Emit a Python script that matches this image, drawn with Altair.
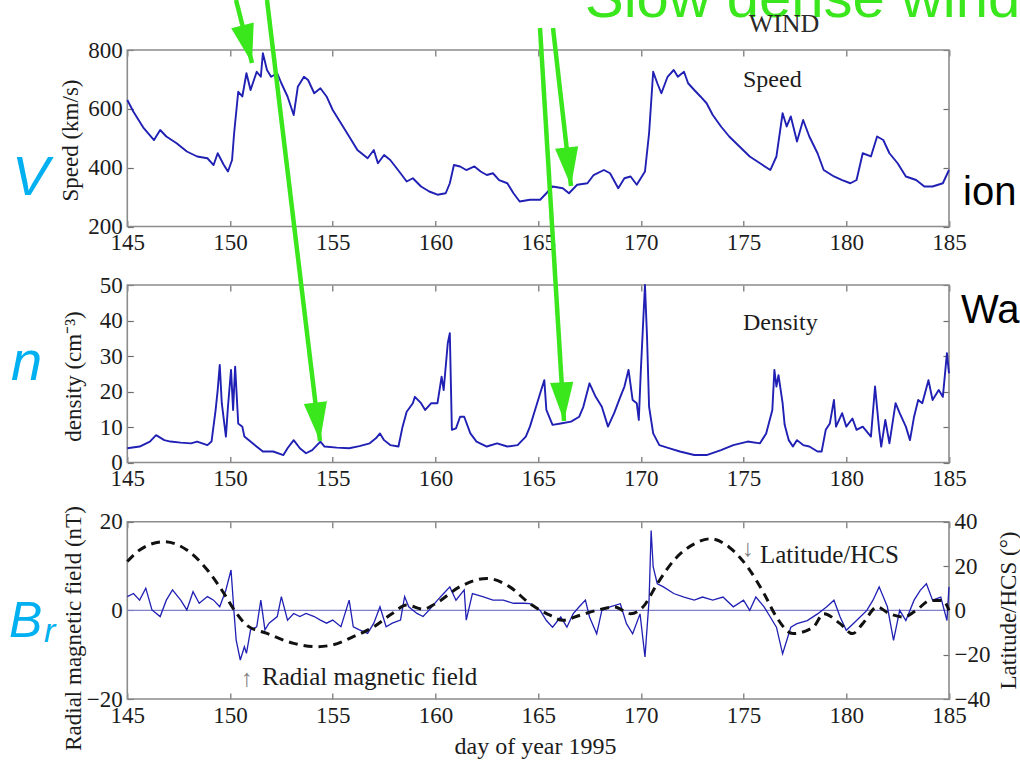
import math
import altair as alt
import pandas as pd

# ---------------- data ----------------
day_ticks = [145, 150, 155, 160, 165, 170, 175, 180, 185]
speed_ticks = [200, 400, 600, 800]
dens_ticks = [0, 10, 20, 30, 40, 50]
br_ticks = [-20, 0, 20]
lat_ticks = [-40, -20, 0, 20, 40]

speed_day = [145.0, 145.3, 145.8, 146.3, 146.6, 146.9, 147.4, 147.9, 148.4, 148.9, 149.2, 149.4, 149.7, 149.9,
             150.1, 150.2, 150.4, 150.6, 150.8, 151.0, 151.3, 151.5, 151.6, 151.8, 152.0, 152.3, 152.5, 152.8,
             153.1, 153.3, 153.6, 153.8, 154.1, 154.4, 154.7, 155.0, 155.4, 155.8, 156.2, 156.7, 157.0, 157.2,
             157.5, 157.8, 158.3, 158.6, 158.9, 159.3, 159.7, 160.1, 160.5, 160.7, 160.9, 161.2, 161.5, 161.9,
             162.2, 162.5, 162.8, 163.1, 163.5, 163.8, 164.1, 164.6, 165.1, 165.4, 165.7, 166.2, 166.5, 166.9,
             167.4, 167.7, 168.2, 168.5, 168.9, 169.2, 169.5, 169.8, 170.2, 170.4, 170.6, 170.8, 171.0, 171.3,
             171.6, 171.8, 172.1, 172.3, 172.6, 172.9, 173.2, 173.5, 173.9, 174.3, 174.8, 175.3, 175.8, 176.3,
             176.6, 176.9, 177.1, 177.3, 177.6, 177.9, 178.2, 178.6, 178.9, 179.4, 179.8, 180.2, 180.5, 180.8,
             181.2, 181.5, 181.8, 182.1, 182.5, 182.9, 183.4, 183.8, 184.2, 184.7, 185.0]
speed_kms = [630, 590, 534, 494, 528, 506, 483, 455, 438, 432, 409, 449, 409, 387,
             426, 517, 658, 642, 721, 664, 726, 709, 789, 732, 709, 721, 687, 642,
             579, 675, 709, 698, 653, 670, 642, 596, 551, 506, 460, 432, 460, 415,
             443, 426, 381, 353, 364, 336, 319, 308, 313, 347, 409, 404, 392, 404,
             387, 375, 381, 358, 347, 313, 285, 291, 291, 313, 336, 330, 313, 342,
             347, 375, 392, 381, 330, 364, 370, 342, 387, 517, 726, 687, 653, 709,
             732, 709, 726, 687, 664, 642, 619, 579, 540, 506, 472, 438, 415, 392,
             438, 585, 540, 574, 489, 562, 506, 449, 392, 370, 358, 347, 358, 449,
             438, 506, 494, 449, 415, 370, 358, 336, 336, 347, 392]

dens_day = [145.0, 145.6, 146.1, 146.4, 146.8, 147.1, 147.6, 148.1, 148.4, 148.9, 149.1, 149.3, 149.4, 149.5,
            149.6, 149.8, 149.9, 150.05, 150.15, 150.25, 150.4, 150.6, 150.7, 151.1, 151.6, 152.1, 152.6, 152.8,
            153.1, 153.4, 153.7, 154.0, 154.4, 154.6, 155.2, 155.8, 156.3, 156.8, 157.1, 157.3, 157.5, 157.8,
            158.2, 158.4, 158.6, 158.9, 159.0, 159.3, 159.5, 159.8, 160.1, 160.3, 160.4, 160.6, 160.7, 160.8,
            161.0, 161.2, 161.4, 161.7, 162.0, 162.5, 163.0, 163.5, 164.0, 164.4,
            164.6, 164.8, 165.1, 165.3, 165.4, 165.7, 166.1, 166.6, 167.0, 167.2, 167.5, 167.8, 168.1, 168.4,
            168.7, 169.0, 169.2, 169.4, 169.6, 169.8, 169.9, 170.0, 170.2, 170.3, 170.4, 170.6, 170.9, 171.4,
            171.9, 172.6, 173.2, 173.9, 174.5, 175.2, 175.8, 176.1, 176.4, 176.5, 176.6, 176.7, 176.9, 177.0,
            177.2, 177.4, 177.6, 177.9, 178.2, 178.6, 178.8, 179.0, 179.2, 179.4, 179.5, 179.8, 180.0, 180.3,
            180.5, 180.8, 181.2, 181.4, 181.6, 181.7, 181.9, 182.1, 182.4, 182.6, 182.9, 183.1, 183.3, 183.5,
            183.7, 184.0, 184.2, 184.5, 184.7, 184.9, 185.0]
dens_cm3 = [4.0, 4.5, 5.9, 7.7, 6.3, 5.9, 5.6, 5.4, 5.9, 4.9, 5.9, 14.8, 20.4, 27.5,
            16.7, 7.3, 15.7, 26.1, 14.8, 27.0, 11.0, 10.1, 7.3, 5.4, 3.1, 3.1, 2.1, 4.0,
            6.3, 4.0, 2.6, 3.5, 5.9, 4.5, 4.2, 4.0, 4.6, 5.4, 6.8, 8.2, 6.3, 4.9,
            4.5, 10.1, 14.3, 16.7, 18.5, 16.7, 14.8, 16.7, 16.7, 24.2, 20.4, 33.6, 36.4, 9.2,
            9.6, 12.9, 12.9, 8.2, 5.9, 4.5, 5.4, 4.5, 4.9, 7.3,
            10.1, 13.9, 19.5, 23.2, 14.8, 10.6, 11.0, 11.5, 12.9, 15.7, 22.3, 18.5, 15.7, 10.1,
            13.9, 18.5, 21.4, 26.1, 17.6, 16.7, 12.0, 26.1, 50.0, 35.4, 15.7, 8.2, 4.9, 4.0,
            3.1, 2.1, 2.1, 3.5, 4.9, 5.9, 5.4, 8.2, 14.8, 26.1, 21.4, 24.6, 16.7, 10.6,
            6.3, 4.5, 6.3, 4.9, 4.5, 3.1, 3.1, 9.2, 11.0, 17.6, 10.1, 13.9, 10.1, 12.4,
            9.2, 10.1, 7.3, 21.4, 9.2, 4.5, 12.0, 5.4, 16.7, 13.9, 10.1, 6.3, 12.9, 17.6,
            16.7, 23.2, 17.6, 20.4, 18.5, 30.8, 25.1]

br_day = [145.0, 145.3, 145.6, 145.9, 146.2, 146.6, 146.9, 147.2, 147.6, 147.9, 148.2, 148.5, 148.9, 149.2,
          149.5, 149.8, 150.05, 150.2, 150.3, 150.5, 150.7, 150.8, 151.0, 151.3, 151.5, 151.7, 151.9, 152.3,
          152.5, 152.8, 153.1, 153.4, 153.7, 154.1, 154.4, 154.7, 155.0, 155.4, 155.8, 156.0, 156.3, 156.7,
          157.0, 157.3, 157.6, 157.9, 158.3, 158.5, 158.7, 159.1, 159.4, 159.7, 160.1, 160.4, 160.7, 161.0,
          161.4, 161.5, 161.8, 162.3, 162.8, 163.3, 163.8, 164.3,
          164.6, 165.1, 165.4, 165.7, 166.1, 166.4, 166.7, 167.0, 167.3, 167.5, 167.85, 168.1, 168.5, 169.0,
          169.3, 169.6, 169.96, 170.2, 170.4, 170.5, 170.6, 170.8, 171.1, 171.6, 172.1, 172.6, 173.0, 173.5,
          174.0, 174.5, 175.0, 175.3, 175.6, 176.0, 176.3, 176.6, 176.9, 177.3, 177.6, 178.1, 178.6, 179.05,
          179.4, 179.7, 180.0, 180.5, 181.0, 181.3, 181.6, 182.0, 182.3, 182.6, 182.9, 183.3, 183.6, 183.9,
          184.2, 184.6, 184.9, 185.0]
br_nt = [3.1, 3.8, 2.3, 5.0, 0.1, -1.4, 2.3, 4.6, 2.3, 0.1, 4.2, 1.6, 3.1, 2.3,
         0.8, 4.6, 9.1, -0.7, -6.7, -11.2, -8.2, -9.7, -4.4, -3.7, 2.3, -4.4, -2.9, -1.4,
         3.1, -2.2, -0.7, -1.4, -0.7, -1.4, -2.2, -2.9, -2.2, -3.7, 2.3, -3.7, -4.4, -5.2,
         -2.9, 0.8, -3.7, -2.9, -2.2, 3.1, 0.8, -0.7, -1.4, 0.1, 2.3, 3.8, 5.3, 2.3,
         4.6, -2.2, 3.8, 3.1, 2.3, 2.3, 1.6, 1.6,
         1.5, 0.0, -2.3, -3.8, -1.5, -3.8, -0.8, 0.8, 2.3, -1.5, -5.3, 0.0, 0.8, 1.5,
         -3.0, -5.3, -0.8, -10.5, 2.3, 18.0, 9.8, 6.0, 5.3, 3.8, 3.0, 2.3, 3.0, 2.3,
         3.0, 0.8, 2.3, 0.0, 3.0, 0.8, -1.5, -3.8, -9.8, -3.8, -3.0, -2.3, -0.8, 0.8,
         2.3, -1.5, -4.5, -2.3, 0.0, 2.3, 5.3, 0.8, -6.8, 0.0, -2.3, 2.3, 4.5, 6.0,
         2.3, 3.0, -2.3, 5.3]

lat_day = [145.0, 145.6, 146.8, 147.9, 148.9, 149.7, 150.2, 150.8, 151.8, 153.1, 154.2, 155.0, 156.0, 157.0,
           157.9, 158.6, 159.4, 160.0, 161.2, 162.5, 163.6, 164.6, 165.6, 166.2, 167.0, 167.85, 168.7, 169.5,
           170.1, 170.8, 171.6, 172.6, 173.4, 174.3, 175.2, 176.0, 176.6, 177.4, 178.4, 178.9, 179.7, 180.3,
           180.8, 181.5, 182.1, 182.8, 183.4, 184.1, 184.7, 185.0]
lat_deg = [22.0, 27.2, 31.0, 27.2, 18.2, 7.7, 0.2, -6.6, -10.4, -14.9, -16.4, -15.6, -11.9, -7.4,
           -1.4, 2.4, 0.5, 3.0, 10.7, 14.4, 10.7, 3.0, -2.3, -4.5, -2.3, 0.0, 1.5, -1.5,
           1.5, 12.0, 22.5, 30.0, 32.3, 28.5, 19.5, 7.5, -3.0, -10.5, -7.5, -1.5, -6.0, -10.5,
           -6.0, 1.5, -1.5, -3.0, 0.0, 4.5, 4.5, 0.0]

# annotation arrows (page pixels: start x, start y, tip x, tip y)
arrow_x0 = [236, 267, 540, 553]
arrow_y0 = [0, 0, 28, 28]
arrow_x1 = [252, 320, 564, 571]
arrow_y1 = [63, 441, 421, 186]

# ---------------- layout / style ----------------
OX, OY = 127.3, 50.0            # page position of the plot-area origin
W, H = 949.0 - OX, 699.0 - OY   # plot-area size
SP_TOP, SP_BOT = 50.0 - OY, 226.5 - OY
DN_TOP, DN_BOT = 285.0 - OY, 462.5 - OY
BR_TOP, BR_BOT = 521.7 - OY, 699.0 - OY

SERIF = "Liberation Serif"
SANS = "Liberation Sans"
BLUE = "#2020b4"
FRAME = "#8c8c8c"
TICK = "#6e6e6e"
CYAN = "#00b0f0"
GREEN = "#3ae61c"
INK = "#1c1c1c"


def xsc():
    return alt.Scale(domain=[day_ticks[0], day_ticks[-1]], nice=False, zero=False)


def ysc(ticks, top, bot):
    return alt.Scale(domain=[ticks[0], ticks[-1]], range=[bot, top], nice=False, zero=False)


def tick_axis(orient, offset, values):
    return alt.Axis(orient=orient, offset=offset, values=values, domain=False, labels=False,
                    ticks=True, tickSize=6, tickColor=TICK, tickWidth=1.2, grid=False, title=None)


def xlab_axis(offset, title=None, **kw):
    return alt.Axis(orient="bottom", offset=offset, values=day_ticks, format="d", domain=False,
                    ticks=False, tickSize=0, grid=False, labelFont=SERIF, labelFontSize=23,
                    labelColor=INK, labelPadding=5, labelFlush=False, labelOverlap=False,
                    title=title, titleFont=SERIF, titleFontSize=24, titleFontWeight="normal",
                    titleColor=INK, **kw)


def ylab_axis(orient, values, title, tx, ty, angle=270):
    return alt.Axis(orient=orient, values=values, format="d", domain=False, ticks=False, tickSize=0,
                    grid=False, labelFont=SERIF, labelFontSize=23, labelColor=INK, labelPadding=5,
                    labelFlush=False, labelOverlap=False,
                    title=title, titleFont=SERIF, titleFontSize=23, titleFontWeight="normal",
                    titleColor=INK, titleX=tx, titleY=ty, titleAngle=angle, titleAlign="center",
                    titleBaseline="middle")


def frame_df(yt):
    return pd.DataFrame({"x": [day_ticks[0]], "x2": [day_ticks[-1]], "y": [yt[0]], "y2": [yt[-1]]})


def panel(day, val, yt, top, bot, ytitle, tx, ty):
    df = pd.DataFrame({"day": day, "v": val})
    line = alt.Chart(df).mark_line(color=BLUE, strokeWidth=1.9, strokeJoin="round").encode(
        x=alt.X("day:Q", scale=xsc(), axis=xlab_axis(bot - H)),
        y=alt.Y("v:Q", scale=ysc(yt, top, bot), axis=ylab_axis("left", yt, ytitle, tx, ty)),
    )
    frame = alt.Chart(frame_df(yt)).mark_rect(fill="white", fillOpacity=0, stroke=FRAME,
                                              strokeWidth=1.6).encode(
        x=alt.X("x:Q", scale=xsc(), axis=tick_axis("top", -bot, day_ticks)),
        x2="x2:Q",
        y=alt.Y("y:Q", scale=ysc(yt, top, bot), axis=tick_axis("right", -W, yt)),
        y2="y2:Q",
    )
    far = alt.Chart(frame_df(yt)).mark_point(opacity=0).encode(
        x=alt.X("x:Q", scale=xsc(), axis=tick_axis("bottom", top - H, day_ticks)),
        y=alt.Y("y:Q", scale=ysc(yt, top, bot), axis=tick_axis("left", -W, yt)),
    )
    return [frame, line, far]


def txt(s, x, y, size, font=SERIF, color=INK, style="normal", align="left", baseline="alphabetic"):
    return alt.Chart(pd.DataFrame({"t": [s]})).mark_text(
        text=s, font=font, fontSize=size, color=color, fontStyle=style, align=align,
        baseline=baseline).encode(x=alt.value(x - OX), y=alt.value(y - OY))


layers = []
layers += panel(speed_day, speed_kms, speed_ticks, SP_TOP, SP_BOT, "Speed (km/s)", 70 - OX, 140 - OY)
layers += panel(dens_day, dens_cm3, dens_ticks, DN_TOP, DN_BOT, "density (cm\u207b\u00b3)", 73 - OX, 376 - OY)

# ---- Br panel ----
br_df = pd.DataFrame({"day": br_day, "v": br_nt})
lat_df = pd.DataFrame({"day": lat_day, "v": lat_deg})
zero_df = pd.DataFrame({"x": [day_ticks[0]], "x2": [day_ticks[-1]], "y": [0]})

br_frame = alt.Chart(frame_df(br_ticks)).mark_rect(fill="white", fillOpacity=0, stroke=FRAME,
                                                   strokeWidth=1.6).encode(
    x=alt.X("x:Q", scale=xsc(), axis=tick_axis("bottom", BR_TOP - H, day_ticks)),
    x2="x2:Q",
    y=alt.Y("y:Q", scale=ysc(br_ticks, BR_TOP, BR_BOT), axis=tick_axis("right", -W, br_ticks)),
    y2="y2:Q",
)
zero_rule = alt.Chart(zero_df).mark_rule(color="#8080c8", strokeWidth=1.2).encode(
    x=alt.X("x:Q", scale=xsc(), axis=None),
    x2="x2:Q",
    y=alt.Y("y:Q", scale=ysc(br_ticks, BR_TOP, BR_BOT), axis=None),
)
br_line = alt.Chart(br_df).mark_line(color=BLUE, strokeWidth=1.3).encode(
    x=alt.X("day:Q", scale=xsc(),
            axis=xlab_axis(0, title="day of year 1995", titleX=535 - OX, titleY=47,
                           titleBaseline="middle", titleAlign="center")),
    y=alt.Y("v:Q", scale=ysc(br_ticks, BR_TOP, BR_BOT),
            axis=ylab_axis("left", br_ticks, "Radial magnetic field (nT)", 73 - OX, 628 - OY)),
)
lat_line = alt.Chart(lat_df).mark_line(color="#111111", strokeWidth=3, strokeDash=[9, 6],
                                       interpolate="monotone").encode(
    x=alt.X("day:Q", scale=xsc(), axis=tick_axis("top", -BR_BOT, day_ticks)),
    y=alt.Y("v:Q", scale=ysc(lat_ticks, BR_TOP, BR_BOT),
            axis=ylab_axis("right", lat_ticks, "Latitude/HCS (\u00b0)", 1008 - 949, 610 - OY)),
)
lat_far = alt.Chart(frame_df(lat_ticks)).mark_point(opacity=0).encode(
    x=alt.X("x:Q", scale=xsc(), axis=None),
    y=alt.Y("y:Q", scale=ysc(lat_ticks, BR_TOP, BR_BOT), axis=tick_axis("left", -W, lat_ticks)),
)
layers += [br_frame, zero_rule, br_line, lat_line, lat_far]

# ---- in-figure texts ----
layers += [
    txt("Slow dense wind", 585, 17, 58, font=SANS, color=GREEN),
    txt("WIND", 784, 32, 26, color="#2a2a2a", align="center"),
    txt("Speed", 743, 87, 24),
    txt("Density", 743, 330, 24),
    txt("\u2191", 247, 686, 24, color="#808080", align="center"),
    txt("Radial magnetic field", 262, 685, 25),
    txt("\u2193", 748, 556, 24, color="#808080", align="center"),
    txt("Latitude/HCS", 760, 563, 25),
    txt("V", 12, 195, 56, font=SANS, color=CYAN, style="italic"),
    txt("n", 11, 380, 56, font=SANS, color=CYAN, style="italic"),
    txt("B", 9, 637, 50, font=SANS, color=CYAN, style="italic"),
    txt("r", 44, 642, 34, font=SANS, color=CYAN, style="italic"),
    txt("ion", 963, 205, 40, font=SANS, color="#000000"),
    txt("Wa", 961, 323, 40, font=SANS, color="#000000"),
]

# ---- green arrows ----
arr = pd.DataFrame({"x0": arrow_x0, "y0": arrow_y0, "x1": arrow_x1, "y1": arrow_y1})
arr["px0"] = arr["x0"] - OX
arr["py0"] = arr["y0"] - OY
arr["px1"] = arr["x1"] - OX
arr["py1"] = arr["y1"] - OY
arr["ang"] = [(360.0 - math.degrees(math.asin((b - a) / math.hypot(b - a, d - c)))) % 360.0
              for a, c, b, d in zip(arr["x0"], arr["y0"], arr["x1"], arr["y1"])]
layers += [
    alt.Chart(arr).mark_rule(color=GREEN, strokeWidth=4.5).encode(
        x=alt.X("px0:Q", scale=None), y=alt.Y("py0:Q", scale=None),
        x2="px1:Q", y2="py1:Q"),
    alt.Chart(arr).mark_point(shape="M-0.6,-2L0.6,-2L0,0Z", filled=True, opacity=1,
                              color=GREEN, size=1500).encode(
        x=alt.X("px1:Q", scale=None), y=alt.Y("py1:Q", scale=None),
        angle=alt.Angle("ang:Q", scale=None)),
]

chart = alt.layer(*layers).resolve_scale(x="independent", y="independent").properties(
    width=W, height=H,
    autosize=alt.AutoSizeParams(type="none"),
    padding={"left": OX, "top": OY, "right": 1020 - 949.0, "bottom": 765 - 699.0},
    background="white",
).configure_view(stroke=None)

chart.save("out.html", embed_options={"renderer": "svg", "actions": False})
